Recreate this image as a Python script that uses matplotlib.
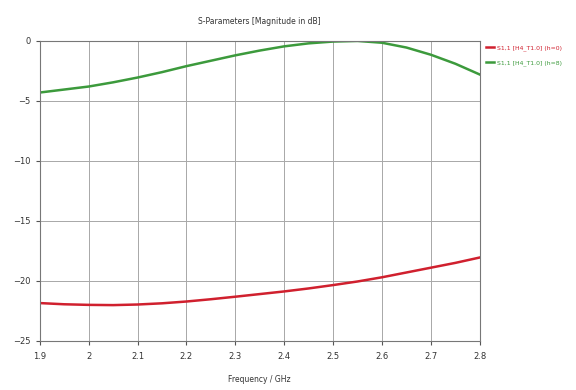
import matplotlib
matplotlib.use("Agg")
import matplotlib.pyplot as plt

freq = [1.9, 1.95, 2.0, 2.05, 2.1, 2.15, 2.2, 2.25, 2.3, 2.35, 2.4, 2.45,
        2.5, 2.55, 2.6, 2.65, 2.7, 2.75, 2.8]
s11_red = [-21.85, -21.95, -22.0, -22.02, -21.97, -21.87, -21.72, -21.53, -21.32,
           -21.1, -20.88, -20.63, -20.35, -20.05, -19.7, -19.3, -18.9, -18.5, -18.05]
s11_green = [-4.3, -4.05, -3.8, -3.45, -3.05, -2.6, -2.1, -1.65, -1.2, -0.8, -0.45,
             -0.2, -0.05, 0.0, -0.15, -0.55, -1.15, -1.9, -2.8]
labels = ["S1,1 [H4_T1.0] (h=0)", "S1,1 [H4_T1.0] (h=8)"]
xticks = [1.9, 2.0, 2.1, 2.2, 2.3, 2.4, 2.5, 2.6, 2.7, 2.8]
xticklabels = ["1.9", "2", "2.1", "2.2", "2.3", "2.4", "2.5", "2.6", "2.7", "2.8"]
yticks = [0, -5, -10, -15, -20, -25]

fig = plt.figure(figsize=(5.76, 3.9), dpi=100)
ax = fig.add_axes([0.069, 0.126, 0.764, 0.769])
ax.plot(freq, s11_red, color="#d0202e", lw=1.8, label=labels[0])
ax.plot(freq, s11_green, color="#3c9a3c", lw=1.8, label=labels[1])
ax.set_xlim(1.9, 2.8)
ax.set_ylim(-25, 0)
ax.set_xticks(xticks)
ax.set_xticklabels(xticklabels)
ax.set_yticks(yticks)
ax.tick_params(labelsize=6, length=3, color="#555555", labelcolor="#333333")
ax.tick_params(axis="x", pad=5)
ax.grid(True, color="#a8a8a8", lw=0.7)
for s in ax.spines.values():
    s.set_color("#777777")
    s.set_linewidth(0.8)
ax.set_title("S-Parameters [Magnitude in dB]", fontsize=5.5, color="#333333", pad=12)
ax.set_xlabel("Frequency / GHz", fontsize=5.5, color="#333333", labelpad=10)
ax.legend(loc="upper left", bbox_to_anchor=(1.005, 1.0), frameon=False,
          fontsize=4.4, handlelength=1.3, handletextpad=0.5,
          labelcolor=["#d0202e", "#3c9a3c"],
          borderaxespad=0.2, labelspacing=1.6)
fig.savefig("out.png", dpi=100)
